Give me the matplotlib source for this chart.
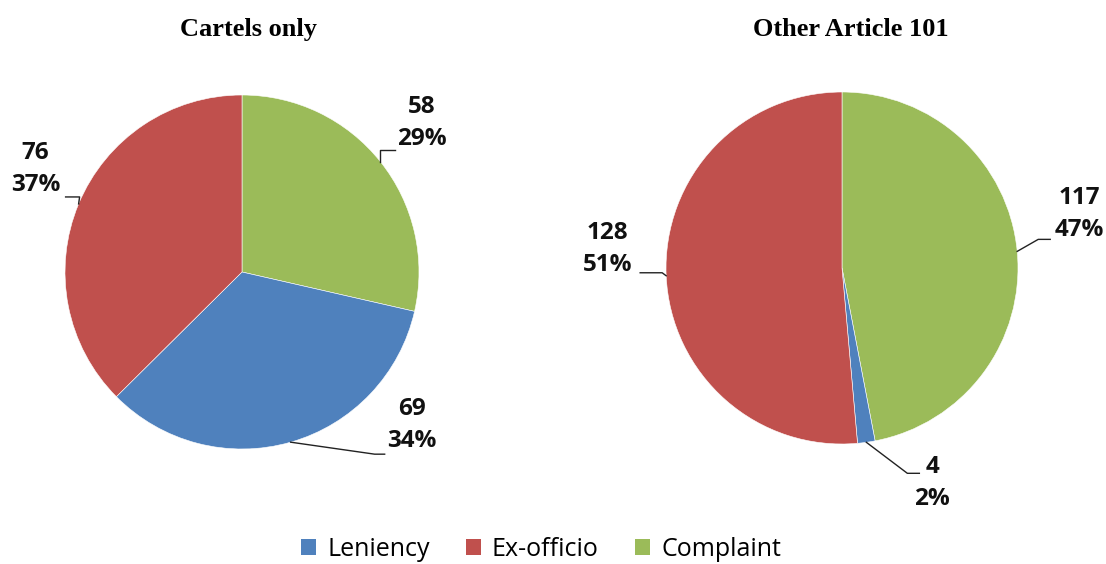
import numpy as np
import matplotlib
matplotlib.use("Agg")
import matplotlib.pyplot as plt
from matplotlib.patches import Patch

W, H = 1106, 564

categories = ["Leniency", "Ex-officio", "Complaint"]
colors = {"Leniency": "#4F81BD", "Ex-officio": "#C0504D", "Complaint": "#9BBB59"}

cartels_vals = {"Leniency": 69, "Ex-officio": 76, "Complaint": 58}
other_vals = {"Leniency": 4, "Ex-officio": 128, "Complaint": 117}

# drawing order clockwise from 12 o'clock
pie_order = ["Complaint", "Leniency", "Ex-officio"]

# layout in pixels (top-down): pie centre, radius, title position
pies = [
    {"title": "Cartels only", "vals": cartels_vals, "center": (242, 272), "r": 177,
     "title_xy": (249, 36),
     # label layout per category: elbow offset, end offset, text offset (from wedge edge point)
     "lab": {"Complaint": ((0, -12), (15, -12), (41, -39)),
             "Leniency": ((84, 12), (94, 12), (121, -17)),
             "Ex-officio": ((1, -7), (-13, -7), (-43, -35))}},
    {"title": "Other Article 101", "vals": other_vals, "center": (842, 268), "r": 176,
     "title_xy": (851, 36),
     "lab": {"Complaint": ((21, -12), (33, -12), (62, -37)),
             "Leniency": ((41, 31), (53, 31), (66, 41)),
             "Ex-officio": ((-4, -3), (-26, -3), (-59, -27))}},
]

fig = plt.figure(figsize=(W / 100, H / 100), dpi=100)
ax = fig.add_axes([0, 0, 1, 1])

def fy(y):
    return H - y

label_font = dict(family="Open Sans", fontweight="bold", fontsize=17.5, color="#111111")

for p in pies:
    cx, cy = p["center"]
    vals = [p["vals"][c] for c in pie_order]
    wedges, _ = ax.pie(vals, colors=[colors[c] for c in pie_order], startangle=90,
                       counterclock=False, center=(cx, fy(cy)), radius=p["r"],
                       wedgeprops=dict(edgecolor="white", linewidth=0.4), frame=True)
    total = sum(vals)
    for c, w in zip(pie_order, wedges):
        th = np.deg2rad((w.theta1 + w.theta2) / 2)
        ex = cx + p["r"] * np.cos(th)
        ey = cy - p["r"] * np.sin(th)
        (elx, ely), (enx, eny), (tx, ty) = p["lab"][c]
        ax.plot([ex, ex + elx, ex + enx], [fy(ey), fy(ey + ely), fy(ey + eny)],
                color="#222222", lw=1.0)
        pct = 100 * p["vals"][c] / total
        ax.text(ex + tx, fy(ey + ty), f"{p['vals'][c]}\n{pct:.0f}%", ha="center",
                va="center", linespacing=1.45, **label_font)
    ax.text(p["title_xy"][0], fy(p["title_xy"][1]), p["title"], ha="center", va="baseline",
            family="Liberation Serif", fontweight="bold", fontsize=19)

ax.set_xlim(0, W)
ax.set_ylim(0, H)
ax.set_aspect("equal")
ax.axis("off")

handles = [Patch(facecolor=colors[c], edgecolor="none") for c in categories]
fig.legend(handles, categories, loc="center", bbox_to_anchor=(541 / W, 15 / H),
           ncol=3, frameon=False, handlelength=0.6, handleheight=0.6, handletextpad=0.45,
           columnspacing=1.45, prop={"family": "Open Sans", "size": 18})

fig.savefig("out.png", dpi=100)
